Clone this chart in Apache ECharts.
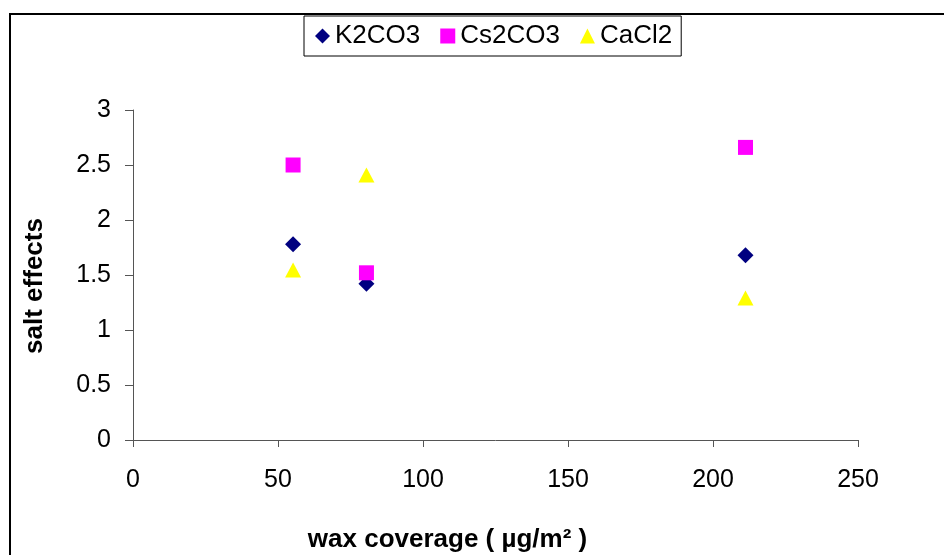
<!DOCTYPE html>
<html>
<head>
<meta charset="utf-8">
<script src="https://cdn.jsdelivr.net/npm/echarts@6/dist/echarts.min.js"></script>
<style>
  html, body { margin: 0; padding: 0; background: #fff; }
  #chart { width: 944px; height: 555px; }
</style>
</head>
<body>
<div id="chart"></div>
<script>
// Salt effects versus wax coverage, one series per salt
const seriesNames = ['K2CO3', 'Cs2CO3', 'CaCl2'];
const waxCoverage = [55.2, 80.5, 211.2];
const k2co3 = [1.78, 1.42, 1.68];
const cs2co3 = [2.50, 1.52, 2.66];
const cacl2 = [1.545, 2.41, 1.29];

const xTicks = { min: 0, max: 250, interval: 50 };
const yTicks = { min: 0, max: 3, interval: 0.5 };

const FONT = '"Liberation Sans", Arial, sans-serif';

function pairs(ys) {
  return waxCoverage.map((x, i) => [x, ys[i]]);
}

const chart = echarts.init(document.getElementById('chart'), null, { renderer: 'canvas' });

chart.setOption({
  animation: false,
  backgroundColor: '#ffffff',
  textStyle: { fontFamily: FONT },
  graphic: [{
    type: 'rect',
    shape: { x: 10, y: 14, width: 1000, height: 600 },
    style: { fill: 'none', stroke: '#000', lineWidth: 2 },
    silent: true,
    z: 0
  }],
  legend: {
    left: 304,
    top: 16,
    padding: [7, 9, 7, 11],
    itemGap: 20,
    itemWidth: 15,
    itemHeight: 15,
    borderColor: '#000',
    borderWidth: 1,
    backgroundColor: '#fff',
    textStyle: { fontSize: 26, color: '#000', fontFamily: FONT },
    data: [
      { name: seriesNames[0], icon: 'diamond' },
      { name: seriesNames[1], icon: 'rect' },
      { name: seriesNames[2], icon: 'triangle' }
    ]
  },
  grid: { left: 133, right: 86, top: 110, bottom: 115, outerBoundsMode: 'none', containLabel: false },
  xAxis: {
    type: 'value',
    min: xTicks.min, max: xTicks.max, interval: xTicks.interval,
    name: 'wax coverage ( µg/m² )',
    nameLocation: 'middle',
    nameGap: 87,
    nameTextStyle: {
      fontSize: 26, fontWeight: 'bold', color: '#000', fontFamily: FONT,
      padding: [0, 96, 0, 0]
    },
    axisLine: { show: true, onZero: false, lineStyle: { color: '#555', width: 1 } },
    axisTick: { show: true, inside: false, length: 7, lineStyle: { color: '#555' } },
    axisLabel: { fontSize: 25, color: '#000', margin: 28, fontFamily: FONT },
    splitLine: { show: false }
  },
  yAxis: {
    type: 'value',
    min: yTicks.min, max: yTicks.max, interval: yTicks.interval,
    name: 'salt effects',
    nameLocation: 'middle',
    nameGap: 85,
    nameTextStyle: {
      fontSize: 26, fontWeight: 'bold', color: '#000', fontFamily: FONT,
      padding: [0, 22, 0, 0]
    },
    axisLine: { show: true, lineStyle: { color: '#555', width: 1 } },
    axisTick: { show: true, inside: false, length: 8, lineStyle: { color: '#555' } },
    axisLabel: { fontSize: 25, color: '#000', margin: 22, fontFamily: FONT },
    splitLine: { show: false }
  },
  series: [
    {
      name: seriesNames[0], type: 'scatter', symbol: 'diamond', symbolSize: 16,
      itemStyle: { color: '#000080', opacity: 1 },
      data: pairs(k2co3), z: 3
    },
    {
      name: seriesNames[1], type: 'scatter', symbol: 'rect', symbolSize: 15,
      itemStyle: { color: '#FF00FF', opacity: 1 },
      data: pairs(cs2co3), z: 4
    },
    {
      name: seriesNames[2], type: 'scatter', symbol: 'triangle', symbolSize: [16, 15],
      itemStyle: { color: '#FFFF00', opacity: 1 },
      data: pairs(cacl2), z: 5
    }
  ]
});
</script>
</body>
</html>
